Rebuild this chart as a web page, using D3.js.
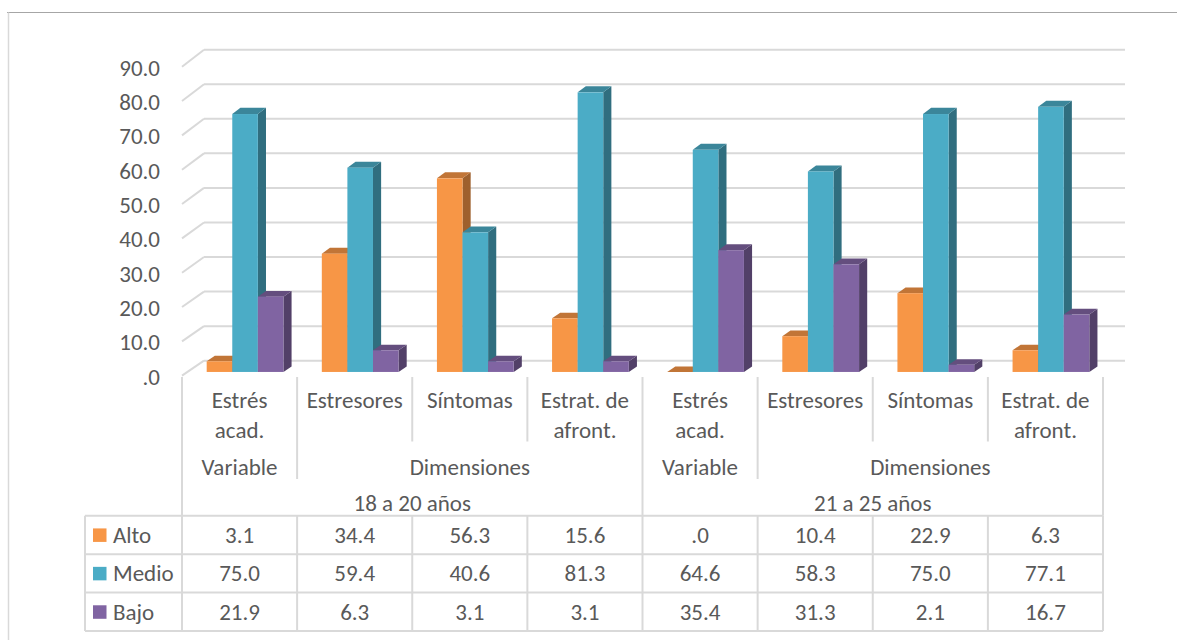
<!DOCTYPE html>
<html>
<head>
<meta charset="utf-8">
<script src="https://cdn.jsdelivr.net/npm/d3@7/dist/d3.min.js"></script>
<style>
  html, body { margin: 0; padding: 0; background: #fff; }
  svg { display: block; }
  text { font-family: Carlito, Calibri, Lato, sans-serif; fill: #595959; }
</style>
</head>
<body>
<svg id="chart" width="1177" height="640"></svg>
<script>
// ---- data ----
const seriesNames = ["Alto", "Medio", "Bajo"];
const seriesColors = ["#F79646", "#4BACC6", "#8064A2"];
const alto  = [3.1, 34.4, 56.3, 15.6, 0.0, 10.4, 22.9, 6.3];
const medio = [75.0, 59.4, 40.6, 81.3, 64.6, 58.3, 75.0, 77.1];
const bajo  = [21.9, 6.3, 3.1, 3.1, 35.4, 31.3, 2.1, 16.7];
const categoryLines = [
  ["Estrés", "acad."], ["Estresores"], ["Síntomas"], ["Estrat. de", "afront."],
  ["Estrés", "acad."], ["Estresores"], ["Síntomas"], ["Estrat. de", "afront."]
];
const levelTwo = [
  { label: "Variable", span: 1 }, { label: "Dimensiones", span: 3 },
  { label: "Variable", span: 1 }, { label: "Dimensiones", span: 3 }
];
const levelThree = [
  { label: "18 a 20 años", span: 4 }, { label: "21 a 25 años", span: 4 }
];
const yTicks = [0, 10, 20, 30, 40, 50, 60, 70, 80, 90];

const series = [alto, medio, bajo];
const fmt = v => (v === 0 ? ".0" : d3.format(".1f")(v));

// ---- layout ----
const svg = d3.select("#chart");
const depthX = 22;                       // horizontal shift from front to back wall
const yFront = d3.scaleLinear().domain([0, 90]).range([375.7, 66.7]);
const yBack  = d3.scaleLinear().domain([0, 90]).range([360.7, 49.7]);
const yAt = (v, z) => (1 - z) * yFront(v) + z * yBack(v);
const xAt = (x, z) => x + z * depthX;

const x = d3.scaleBand().domain(d3.range(categoryLines.length)).range([182, 1103]).padding(0);
const xs = d3.scaleBand().domain(seriesNames).range([0, x.bandwidth()]).paddingInner(0).paddingOuter(0.75);

const gridColor = "#d9d9d9";
const fontSize = 23;

// chart frame
svg.append("line").attr("x1", 7).attr("x2", 1177).attr("y1", 12.5).attr("y2", 12.5)
  .attr("stroke", "#a6a6a6").attr("stroke-width", 1);
svg.append("line").attr("x1", 8.5).attr("x2", 8.5).attr("y1", 12.5).attr("y2", 640)
  .attr("stroke", gridColor).attr("stroke-width", 1.5);

// walls: back-wall gridlines and side-wall diagonals
const grid = svg.append("g");
const [x0, x1] = x.range();
yTicks.forEach(t => {
  grid.append("line")
    .attr("x1", xAt(x0, 1)).attr("x2", xAt(x1, 1))
    .attr("y1", yAt(t, 1)).attr("y2", yAt(t, 1))
    .attr("stroke", gridColor).attr("stroke-width", 2);
  grid.append("line")
    .attr("x1", xAt(x0, 0)).attr("x2", xAt(x0, 1))
    .attr("y1", yAt(t, 0)).attr("y2", yAt(t, 1))
    .attr("stroke", gridColor).attr("stroke-width", 2);
});

// y-axis labels
svg.append("g").selectAll("text").data(yTicks).join("text")
  .attr("x", 160).attr("y", d => yFront(d) + 1)
  .attr("dy", "0.35em").attr("text-anchor", "end")
  .attr("font-size", fontSize).text(fmt);

// 3D columns
const zF = 0.25, zB = 0.62;
const bars = svg.append("g");
const shade = (c, k) => d3.interpolateRgb(c, "#000")(k);
x.domain().forEach(i => {
  seriesNames.forEach((name, s) => {
    const v = series[s][i];
    const color = seriesColors[s];
    const bx = x(i) + xs(name);
    const w = xs.bandwidth();
    const fx0 = xAt(bx, zF), fx1 = xAt(bx + w, zF);
    const bx0 = xAt(bx, zB), bx1 = xAt(bx + w, zB);
    const ftop = yAt(v, zF), fbot = yAt(0, zF);
    const btop = yAt(v, zB), bbot = yAt(0, zB);
    const g = bars.append("g");
    // right side face
    g.append("path")
      .attr("d", `M${fx1},${ftop}L${bx1},${btop}L${bx1},${bbot}L${fx1},${fbot}Z`)
      .attr("fill", shade(color, 0.36));
    // top face
    g.append("path")
      .attr("d", `M${fx0},${ftop}L${fx1},${ftop}L${bx1},${btop}L${bx0},${btop}Z`)
      .attr("fill", shade(color, 0.22));
    // front face
    g.append("rect")
      .attr("x", fx0).attr("y", ftop)
      .attr("width", fx1 - fx0).attr("height", Math.max(0, fbot - ftop))
      .attr("fill", color);
  });
});

// category axis (multi-level) and separators
const axisTop = 377;
const lvl1Bottom = 441.5, lvl2Bottom = 479, lvl3Bottom = 515.7;
const axis = svg.append("g");
const sepLine = (xx, y2) => axis.append("line")
  .attr("x1", xx).attr("x2", xx).attr("y1", axisTop).attr("y2", y2)
  .attr("stroke", gridColor).attr("stroke-width", 2);

// level 3 boundaries
let idx = 0;
const l3Edges = [x(0)];
levelThree.forEach(g => { idx += g.span; l3Edges.push(idx < x.domain().length ? x(idx) : x1); });
// level 2 boundaries
idx = 0;
const l2Edges = [];
levelTwo.forEach(g => { idx += g.span; if (idx < x.domain().length) l2Edges.push(x(idx)); });

x.domain().forEach(i => {
  if (i === 0) return;
  const xx = x(i);
  if (l3Edges.includes(xx)) return;
  if (l2Edges.includes(xx)) return;
  sepLine(xx, lvl1Bottom);
});
l2Edges.filter(e => !l3Edges.includes(e)).forEach(e => sepLine(e, lvl2Bottom));
l3Edges.forEach(e => sepLine(e, lvl3Bottom));

// level 1 labels
x.domain().forEach(i => {
  const cx = x(i) + x.bandwidth() / 2;
  categoryLines[i].forEach((line, j) => {
    axis.append("text").attr("x", cx).attr("y", 400 + j * 30)
      .attr("dy", "0.35em").attr("text-anchor", "middle")
      .attr("font-size", fontSize).text(line);
  });
});
// level 2 labels
idx = 0;
levelTwo.forEach(g => {
  const a = x(idx), b = x(idx + g.span - 1) + x.bandwidth();
  axis.append("text").attr("x", (a + b) / 2).attr("y", 467)
    .attr("dy", "0.35em").attr("text-anchor", "middle")
    .attr("font-size", fontSize).text(g.label);
  idx += g.span;
});
// level 3 labels
idx = 0;
levelThree.forEach(g => {
  const a = x(idx), b = x(idx + g.span - 1) + x.bandwidth();
  axis.append("text").attr("x", (a + b) / 2).attr("y", 503)
    .attr("dy", "0.35em").attr("text-anchor", "middle")
    .attr("font-size", fontSize).text(g.label);
  idx += g.span;
});

// data table
const table = svg.append("g");
const rowY = d3.scaleBand().domain(seriesNames).range([515.7, 631]);
const legendLeft = 85;
// horizontal rules
[...seriesNames.map(n => rowY(n)), rowY.range()[1]].forEach(yy => {
  table.append("line").attr("x1", legendLeft).attr("x2", x1)
    .attr("y1", yy).attr("y2", yy)
    .attr("stroke", gridColor).attr("stroke-width", 2);
});
// vertical rules
[legendLeft, ...x.domain().map(i => x(i)), x1].forEach(xx => {
  table.append("line").attr("x1", xx).attr("x2", xx)
    .attr("y1", rowY.range()[0]).attr("y2", rowY.range()[1])
    .attr("stroke", gridColor).attr("stroke-width", 2);
});
seriesNames.forEach((name, s) => {
  const cy = rowY(name) + rowY.bandwidth() / 2;
  table.append("rect").attr("x", 93).attr("y", cy - 6.5)
    .attr("width", 13.5).attr("height", 13.5).attr("fill", seriesColors[s]);
  table.append("text").attr("x", 113).attr("y", cy)
    .attr("dy", "0.35em").attr("font-size", fontSize).text(name);
  series[s].forEach((v, i) => {
    table.append("text").attr("x", x(i) + x.bandwidth() / 2).attr("y", cy)
      .attr("dy", "0.35em").attr("text-anchor", "middle")
      .attr("font-size", fontSize).text(fmt(v));
  });
});
</script>
</body>
</html>
